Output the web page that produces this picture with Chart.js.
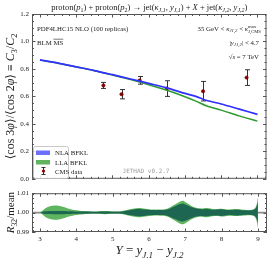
<!DOCTYPE html>
<html>
<head>
<meta charset="utf-8">
<script src="https://cdn.jsdelivr.net/npm/chart.js@4"></script>
<style>
  html, body { margin: 0; padding: 0; background: #fff; }
  #wrap { position: relative; width: 271px; height: 258px; }
  canvas { position: absolute; left: 0; }
  #mainChart { top: 0; }
  #ratioChart { top: 186px; }
</style>
</head>
<body>
<div id="wrap">
  <canvas id="mainChart" width="271" height="186"></canvas>
  <canvas id="ratioChart" width="271" height="72"></canvas>
</div>
<script>
// ---- data ----
const rapidity = [3.0, 3.5, 4.0, 4.5, 5.0, 5.5, 6.0, 6.5, 7.0, 7.3, 7.6, 8.0, 8.5, 9.0];
const nlaC32 = [0.866, 0.842, 0.815, 0.788, 0.758, 0.727, 0.695, 0.662, 0.622, 0.600, 0.570, 0.545, 0.507, 0.469];
const llaC32 = [0.866, 0.842, 0.815, 0.787, 0.756, 0.722, 0.685, 0.645, 0.598, 0.566, 0.530, 0.500, 0.458, 0.420];

const cmsY = [4.75, 5.25, 5.75, 6.5, 7.5, 8.7];
const cmsC32 = [0.680, 0.616, 0.717, 0.657, 0.638, 0.737];
const cmsErr = [0.022, 0.034, 0.028, 0.057, 0.071, 0.057];

// ratio panel: half-widths of the bands around 1, in units of 1e-3
const ratioY = [3.0, 3.1, 3.2, 3.4, 3.6, 3.8, 4.0, 4.2, 4.5, 4.8, 5.0, 5.2, 5.5, 5.7, 5.9, 6.1, 6.3, 6.5, 6.7, 6.9, 7.0, 7.2, 7.4, 7.6, 7.8, 8.0, 8.2, 8.4, 8.6, 8.8, 8.93, 9.0];
const llaHalfWidth = [0, 1.5, 2.8, 3.7, 3.2, 2.0, 1.2, 0.8, 0.5, 0.8, 0.6, 0.6, 1.8, 2.4, 2.0, 1.6, 1.6, 2.0, 4.0, 6.0, 5.5, 3.2, 2.2, 2.4, 1.8, 2.0, 1.6, 1.8, 1.5, 1.4, 2.5, 8.0];
const nlaHalfWidth = [0, 0.6, 0.7, 0.8, 0.8, 0.7, 0.6, 0.6, 0.5, 0.6, 0.5, 0.5, 1.4, 1.9, 1.6, 1.3, 1.3, 1.6, 3.2, 4.6, 4.2, 2.6, 1.8, 1.9, 1.5, 1.7, 1.3, 1.5, 1.2, 1.2, 2.0, 5.5];

const xTicks = [3, 4, 5, 6, 7, 8, 9];
const mainYTicks = [0, 0.2, 0.4, 0.6, 0.8, 1.0, 1.2];
const ratioYTicks = [0.99, 1.00, 1.01];

const SERIF = '"Liberation Serif", "DejaVu Serif", serif';
Chart.defaults.font.family = SERIF;
Chart.defaults.color = '#222';

/* ---------------- rich text ---------------- */
function partFont(p, size) {
  const s = (p.sub || p.sup) ? size * 0.7 : size;
  return (p.i ? 'italic ' : '') + s + 'px ' + SERIF;
}

function partWidth(ctx, p, size) {
  ctx.font = partFont(p, size);
  let w = ctx.measureText(p.t).width;
  if (p.stack) w = Math.max(w, ctx.measureText(p.stack).width);
  return w;
}

function drawRich(ctx, parts, x, y, align, size) {
  const total = parts.reduce((s, p) => s + partWidth(ctx, p, size), 0);
  let cx = align === 'center' ? x - total / 2 : align === 'right' ? x - total : x;
  ctx.textAlign = 'left';
  ctx.textBaseline = 'alphabetic';
  parts.forEach(p => {
    const w = partWidth(ctx, p, size);
    ctx.font = partFont(p, size);
    if (p.stack) {
      ctx.fillText(p.t, cx, y - size * 0.4);
      ctx.fillText(p.stack, cx, y + size * 0.3);
    } else {
      const dy = p.sub ? size * 0.28 : p.sup ? -size * 0.4 : 0;
      ctx.fillText(p.t, cx, y + dy);
    }
    if (p.over) {
      ctx.beginPath();
      ctx.lineWidth = 0.6;
      ctx.moveTo(cx, y - size * 0.78);
      ctx.lineTo(cx + w, y - size * 0.78);
      ctx.stroke();
    }
    cx += w;
  });
}

/* ---------------- plugins ---------------- */
const frameTicks = {
  id: 'frameTicks',
  afterDatasetsDraw(chart, args, opts) {
    const { ctx, chartArea: a, scales: { x, y } } = chart;
    ctx.save();
    ctx.strokeStyle = '#555';
    ctx.lineWidth = 1;
    ctx.strokeRect(a.left + 0.5, a.top + 0.5, a.right - a.left - 1, a.bottom - a.top - 1);
    const line = (x0, y0, x1, y1) => { ctx.beginPath(); ctx.moveTo(x0, y0); ctx.lineTo(x1, y1); ctx.stroke(); };
    const isMajor = (v, step) => Math.abs(v / step - Math.round(v / step)) < 1e-6;
    for (let k = Math.ceil(x.min / opts.xMinor - 1e-9); k * opts.xMinor <= x.max + 1e-9; k++) {
      const v = k * opts.xMinor;
      const px = Math.round(x.getPixelForValue(v)) + 0.5;
      const len = isMajor(v, opts.xMajor) ? 3.5 : 2;
      line(px, a.bottom, px, a.bottom - len);
      line(px, a.top, px, a.top + len);
    }
    for (let k = Math.ceil(y.min / opts.yMinor - 1e-9); k * opts.yMinor <= y.max + 1e-9; k++) {
      const v = k * opts.yMinor;
      const py = Math.round(y.getPixelForValue(v)) + 0.5;
      const len = isMajor(v, opts.yMajor) ? 3.5 : 2;
      line(a.left, py, a.left + len, py);
      line(a.right, py, a.right - len, py);
    }
    ctx.restore();
  }
};

const errorBars = {
  id: 'errorBars',
  beforeDatasetsDraw(chart) {
    const { ctx, scales: { x, y } } = chart;
    ctx.save();
    ctx.strokeStyle = '#333';
    ctx.lineWidth = 1;
    cmsY.forEach((v, i) => {
      const px = Math.round(x.getPixelForValue(v)) + 0.5;
      const top = y.getPixelForValue(cmsC32[i] + cmsErr[i]);
      const bot = y.getPixelForValue(cmsC32[i] - cmsErr[i]);
      ctx.beginPath();
      ctx.moveTo(px, top); ctx.lineTo(px, bot);
      ctx.moveTo(px - 2.5, top); ctx.lineTo(px + 2.5, top);
      ctx.moveTo(px - 2.5, bot); ctx.lineTo(px + 2.5, bot);
      ctx.stroke();
    });
    ctx.restore();
  }
};

const mainDecor = {
  id: 'mainDecor',
  afterDraw(chart) {
    const { ctx, chartArea: a } = chart;
    ctx.save();
    ctx.fillStyle = '#222';
    ctx.strokeStyle = '#222';
    const cx = (a.left + a.right) / 2;

    // title
    drawRich(ctx, [
      { t: 'proton(' }, { t: 'p', i: true }, { t: '1', sub: true },
      { t: ') + proton(' }, { t: 'p', i: true }, { t: '2', sub: true },
      { t: ') \u2192 jet(' }, { t: '\u03ba', i: true }, { t: 'J,1', sub: true, i: true },
      { t: ', ' }, { t: 'y', i: true }, { t: 'J,1', sub: true, i: true },
      { t: ') + ' }, { t: 'X', i: true }, { t: ' + jet(' },
      { t: '\u03ba', i: true }, { t: 'J,2', sub: true, i: true },
      { t: ', ' }, { t: 'y', i: true }, { t: 'J,2', sub: true, i: true }, { t: ')' }
    ], cx, 9.5, 'center', 8.5);

    // annotations
    drawRich(ctx, [{ t: 'PDF4LHC15 NLO (100 replicas)' }], 37, 30.5, 'left', 6.8);
    drawRich(ctx, [{ t: 'BLM ' }, { t: 'MS', over: true }], 37, 44.5, 'left', 6.8);
    drawRich(ctx, [
      { t: '35 GeV < ' }, { t: '\u03ba', i: true }, { t: 'J1,2', sub: true, i: true },
      { t: ' < ' }, { t: '\u03ba', i: true }, { t: 'max', sup: true, stack: 'J,CMS' }
    ], 261, 30.5, 'right', 6.8);
    drawRich(ctx, [{ t: '|' }, { t: 'y', i: true }, { t: 'J1,2', sub: true, i: true }, { t: '| < 4.7' }], 259, 44.5, 'right', 6.8);
    drawRich(ctx, [{ t: '\u221A' }, { t: 's', i: true }, { t: ' = 7 TeV' }], 259, 58.5, 'right', 6.8);

    // watermark
    ctx.fillStyle = '#9a9a9a';
    ctx.font = '6px "DejaVu Sans Mono", monospace';
    ctx.textAlign = 'center';
    ctx.textBaseline = 'middle';
    ctx.fillText('JETHAD v0.2.7', 146, 171);

    // legend
    ctx.fillStyle = 'rgba(255,255,255,0.85)';
    ctx.strokeStyle = '#bbb';
    ctx.lineWidth = 0.8;
    ctx.beginPath();
    ctx.roundRect(33.5, 146.5, 35, 32, 2);
    ctx.fill();
    ctx.stroke();
    ctx.fillStyle = 'rgb(110,110,255)';
    ctx.fillRect(36, 150.5, 14, 4.5);
    ctx.fillStyle = 'rgb(95,180,95)';
    ctx.fillRect(36, 160, 14, 4.5);
    ctx.strokeStyle = '#333';
    ctx.lineWidth = 1;
    ctx.beginPath();
    ctx.moveTo(43.5, 167.5); ctx.lineTo(43.5, 174.5);
    ctx.moveTo(41.5, 167.5); ctx.lineTo(45.5, 167.5);
    ctx.moveTo(41.5, 174.5); ctx.lineTo(45.5, 174.5);
    ctx.stroke();
    ctx.fillStyle = '#8b0000';
    ctx.beginPath(); ctx.arc(43.5, 171, 1.6, 0, Math.PI * 2); ctx.fill();
    ctx.fillStyle = '#222';
    drawRich(ctx, [{ t: 'NLA BFKL' }], 55, 155, 'left', 6.8);
    drawRich(ctx, [{ t: 'LLA BFKL' }], 55, 164.5, 'left', 6.8);
    drawRich(ctx, [{ t: 'CMS data' }], 55, 173.5, 'left', 6.8);

    // y-axis title
    ctx.fillStyle = '#222';
    ctx.save();
    ctx.translate(14, (a.top + a.bottom) / 2);
    ctx.rotate(-Math.PI / 2);
    drawRich(ctx, [
      { t: '\u27E8cos 3' }, { t: '\u03C6', i: true }, { t: '\u27E9/\u27E8cos 2' }, { t: '\u03C6', i: true },
      { t: '\u27E9 \u2261 ' }, { t: 'C', i: true }, { t: '3', sub: true }, { t: '/' },
      { t: 'C', i: true }, { t: '2', sub: true }
    ], 0, 0, 'center', 12);
    ctx.restore();
    ctx.restore();
  }
};

const ratioDecor = {
  id: 'ratioDecor',
  beforeDatasetsDraw(chart) {
    const { ctx, chartArea: a, scales: { y } } = chart;
    const py = y.getPixelForValue(1);
    ctx.save();
    ctx.strokeStyle = '#8a8a8a';
    ctx.lineWidth = 1.6;
    ctx.beginPath();
    ctx.moveTo(a.left, py); ctx.lineTo(a.right, py);
    ctx.stroke();
    ctx.restore();
  },
  afterDraw(chart) {
    const { ctx, chartArea: a } = chart;
    ctx.save();
    ctx.fillStyle = '#222';
    ctx.save();
    ctx.translate(14, (a.top + a.bottom) / 2);
    ctx.rotate(-Math.PI / 2);
    drawRich(ctx, [{ t: 'R', i: true }, { t: '32', sub: true }, { t: '/mean' }], 0, 0, 'center', 11);
    ctx.restore();
    drawRich(ctx, [
      { t: 'Y', i: true }, { t: ' = ' }, { t: 'y', i: true }, { t: 'J,1', sub: true, i: true },
      { t: ' \u2212 ' }, { t: 'y', i: true }, { t: 'J,2', sub: true, i: true }
    ], (a.left + a.right) / 2, 68, 'center', 13);
    ctx.restore();
  }
};

/* ---------------- charts ---------------- */
const X_MIN = 2.78, X_MAX = 9.25;

const yAxisBase = (ticks, digits) => ({
  grid: { display: false, drawTicks: false },
  border: { display: false },
  ticks: { font: { size: 7 }, padding: 3, color: '#222', callback: v => Number(v).toFixed(digits) },
  afterBuildTicks: s => { s.ticks = ticks.map(v => ({ value: v })); },
  afterFit: s => { s.width = 32; }
});

new Chart(document.getElementById('mainChart'), {
  type: 'line',
  data: {
    datasets: [
      {
        label: 'NLA BFKL',
        data: rapidity.map((v, i) => ({ x: v, y: nlaC32[i] })),
        borderColor: '#3030ff', borderWidth: 1.7, pointRadius: 0, tension: 0.3
      },
      {
        label: 'LLA BFKL',
        data: rapidity.map((v, i) => ({ x: v, y: llaC32[i] })),
        borderColor: '#2e9a2e', borderWidth: 1.5, pointRadius: 0, tension: 0.3
      },
      {
        label: 'CMS data',
        data: cmsY.map((v, i) => ({ x: v, y: cmsC32[i] })),
        showLine: false, pointRadius: 1.7,
        pointBackgroundColor: '#8b0000', pointBorderColor: '#6a0000', pointBorderWidth: 0.5
      }
    ]
  },
  options: {
    responsive: false,
    animation: false,
    devicePixelRatio: 1,
    layout: { padding: { left: 0, right: 4, top: 14, bottom: 6 } },
    plugins: {
      legend: { display: false },
      tooltip: { enabled: false },
      frameTicks: { xMinor: 0.2, xMajor: 1, yMinor: 0.05, yMajor: 0.2 }
    },
    scales: {
      x: { type: 'linear', display: false, min: X_MIN, max: X_MAX },
      y: Object.assign({ min: 0, max: 1.2 }, yAxisBase(mainYTicks, 1))
    }
  },
  plugins: [errorBars, frameTicks, mainDecor]
});

const band = (half, sign) => ratioY.map((v, i) => ({ x: v, y: 1 + sign * half[i] * 1e-3 }));

// datasets are painted last-to-first, so the NLA band (first) ends up on top
new Chart(document.getElementById('ratioChart'), {
  type: 'line',
  data: {
    datasets: [
      { data: band(nlaHalfWidth, 1), borderWidth: 0, pointRadius: 0, tension: 0.4, fill: false },
      { data: band(nlaHalfWidth, -1), borderWidth: 0, pointRadius: 0, tension: 0.4, fill: '-1', backgroundColor: 'rgb(28,102,82)' },
      { data: band(llaHalfWidth, 1), borderWidth: 0, pointRadius: 0, tension: 0.4, fill: false },
      { data: band(llaHalfWidth, -1), borderWidth: 0, pointRadius: 0, tension: 0.4, fill: '-1', backgroundColor: 'rgb(95,180,95)' }
    ]
  },
  options: {
    responsive: false,
    animation: false,
    devicePixelRatio: 1,
    layout: { padding: { left: 0, right: 4, top: 6, bottom: 0 } },
    plugins: {
      legend: { display: false },
      tooltip: { enabled: false },
      frameTicks: { xMinor: 0.2, xMajor: 1, yMinor: 0.0025, yMajor: 0.01 }
    },
    scales: {
      x: {
        type: 'linear', min: X_MIN, max: X_MAX,
        grid: { display: false, drawTicks: false },
        border: { display: false },
        ticks: { font: { size: 7 }, padding: 3, color: '#222', callback: v => String(v) },
        afterBuildTicks: s => { s.ticks = xTicks.map(v => ({ value: v })); },
        afterFit: s => { s.height = 26; }
      },
      y: Object.assign({ min: 0.99, max: 1.01 }, yAxisBase(ratioYTicks, 2))
    }
  },
  plugins: [ratioDecor, frameTicks]
});
</script>
</body>
</html>
